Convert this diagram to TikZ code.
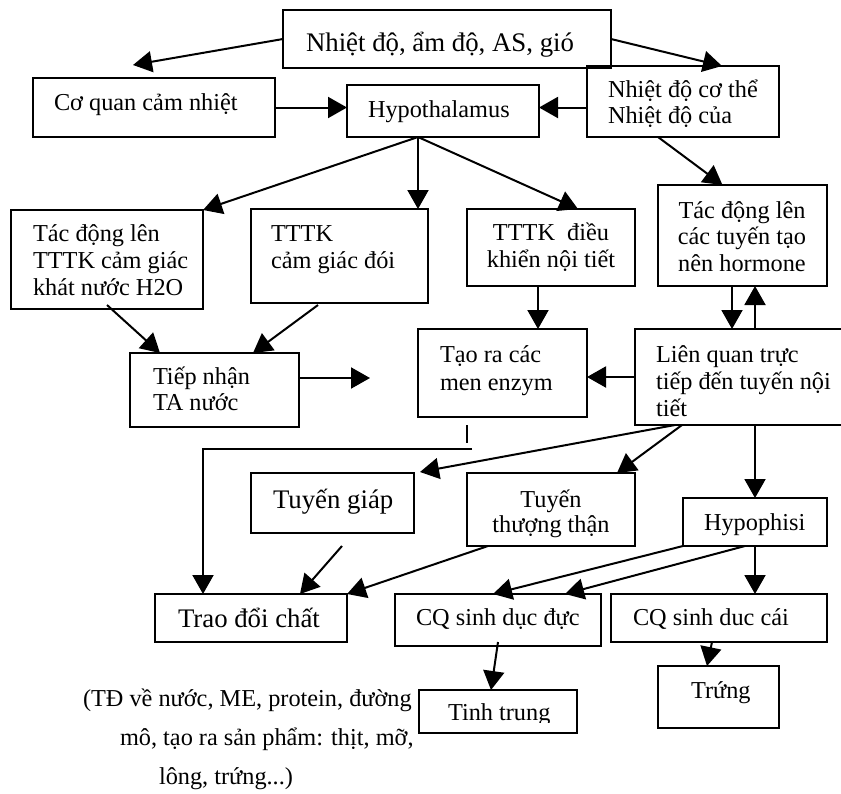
\documentclass[tikz,border=0pt]{standalone}
\usepackage{fontspec}
\setmainfont{Liberation Serif}
\usetikzlibrary{arrows.meta,calc}

\begin{document}
\begin{tikzpicture}[x=1pt,y=-1pt,
  line width=2pt,
  box/.style={draw, rectangle, inner sep=0pt, outer sep=0pt, anchor=north west},
  % multi-line texts are placed by the baseline of their last line
  txt/.style={inner sep=0pt, anchor=base west, align=left, font=\fontsize{24.3}{27}\selectfont},
  ctxt/.style={inner sep=0pt, anchor=base, align=center, font=\fontsize{24.3}{26.5}\selectfont},
  big/.style={font=\fontsize{26.8}{30}\selectfont},
  arr/.style={-{Triangle[length=19pt,width=21pt]}},
]
\useasboundingbox (0,0) rectangle (841,793);
\fill[white] (0,0) rectangle (841,793);

% boxes
\node[box, minimum width=328pt, minimum height=58pt] (env) at (283,10) {};
\node[box, minimum width=242pt, minimum height=59pt] (cqcn) at (33,78) {};
\node[box, minimum width=192pt, minimum height=52pt] (hyp) at (347,85) {};
\node[box, minimum width=192pt, minimum height=71pt] (ndct) at (587,66) {};
\node[box, minimum width=192pt, minimum height=99pt] (tdk) at (11,210) {};
\node[box, minimum width=177pt, minimum height=94pt] (doi) at (251,209) {};
\node[box, minimum width=168pt, minimum height=77pt] (dknt) at (467,209) {};
\node[box, minimum width=169pt, minimum height=101pt] (hormon) at (658,185) {};
\node[box, minimum width=169pt, minimum height=74pt] (tiepnhan) at (130,353) {};
\node[box, minimum width=169pt, minimum height=88pt] (enzym) at (418,329) {};
\node[box, minimum width=210pt, minimum height=96pt] (lienquan) at (635,329) {};
\node[box, minimum width=163pt, minimum height=60pt] (giap) at (251,473) {};
\node[box, minimum width=168pt, minimum height=73pt] (thuongthan) at (467,473) {};
\node[box, minimum width=144pt, minimum height=48pt] (hypo) at (683,498) {};
\node[box, minimum width=192pt, minimum height=48pt] (tdc) at (155,594) {};
\node[box, minimum width=206pt, minimum height=52pt] (duc) at (395,594) {};
\node[box, minimum width=216pt, minimum height=48pt] (cai) at (611,594) {};
\node[box, minimum width=158pt, minimum height=43pt] (tinh) at (419,690) {};
\node[box, minimum width=121pt, minimum height=62pt] (trung) at (658,666) {};

% texts
\node[txt, big] (tenv) at (305,51) {Nhiệt độ, ẩm độ, AS, gió};
\node[txt] (tcqcn) at (53,110) {Cơ quan cảm nhiệt};
\node[txt] (thyp) at (367,117) {Hypothalamus};
\node[txt, font=\fontsize{24.3}{26}\selectfont] (tndct) at (607,123) {Nhiệt độ cơ thể\\Nhiệt độ của};
\node[txt] (ttdk) at (32,295) {Tác động lên\\TTTK cảm giác\\khát nước H2O};
\node[txt] (tdoi) at (270,268) {TTTK\\cảm giác đói};
\node[ctxt] (tdknt) at (551,267) {TTTK\ \ điều\\khiển nội tiết};
\node[ctxt] (thormon) at (742,271) {Tác động lên\\các tuyến tạo\\nên hormone};
\node[txt, font=\fontsize{24.3}{26}\selectfont] (ttiepnhan) at (152,410) {Tiếp nhận\\TA nước};
\node[txt, font=\fontsize{24.3}{28}\selectfont] (tenzym) at (439,390) {Tạo ra các\\men enzym};
\node[txt] (tlienquan) at (655,416) {Liên quan trực\\tiếp đến tuyến nội\\tiết};
\node[txt, big] (tgiap) at (272,508) {Tuyến giáp};
\node[ctxt, font=\fontsize{24.3}{25}\selectfont] (tthuongthan) at (551,532) {Tuyến\\thượng thận};
\node[txt] (thypo) at (703,530) {Hypophisi};
\node[txt, big] (ttdc) at (177,627) {Trao đổi chất};
\node[txt] (tduc) at (415,625) {CQ sinh dục đực};
\node[txt] (tcai) at (632,625) {CQ sinh duc cái};
\begin{scope}
  \clip (419,690) rectangle (577,722);
  \node[txt] (ttinh) at (447,720) {Tinh trung};
\end{scope}
\node[txt] (ttrung) at (690,698) {Trứng};
\node[txt] (note1) at (82,706) {(TĐ về nước, ME, protein, đường};
\node[txt] (note2) at (119,745) {mô, tạo ra sản phẩm: thịt, mỡ,};
\node[txt] (note3) at (158,784) {lông, trứng...)};

% connectors
\coordinate (c1) at (133,65);
\coordinate (c2) at (370,378);
\coordinate (c3) at (472,449);
\coordinate (h) at ([xshift=71pt]hyp.south west);

\draw[arr] (env.west) -- (c1);
\draw[arr] (env.east) -- ([xshift=39pt]ndct.north);
\draw[arr] (cqcn.east) -- (cqcn.east -| hyp.west);
\draw[arr] (ndct.west |- cqcn.east) -- (hyp.east |- cqcn.east);
\draw[arr] ([xshift=-25pt]ndct.south) -- ([xshift=-20pt]hormon.north);
\draw[arr] (h) -- (tdk.north east);
\draw[arr] (h) -- (h |- doi.north);
\draw[arr] (h) -- ([xshift=27pt]dknt.north);
\draw[arr] ([yshift=4pt]tdk.south) -- ([xshift=-54.5pt]tiepnhan.north);
\draw[arr] ([xshift=-21.5pt,yshift=-2pt]doi.south) -- ([xshift=38.5pt]tiepnhan.north);
\draw[arr] ([yshift=12pt]tiepnhan.east) -- (c2);
\draw[arr] ([xshift=-13pt]dknt.south) -- ([xshift=-13pt]dknt.south |- enzym.north);
\draw[arr] (lienquan.west) -- (lienquan.west -| enzym.east);
\draw[arr] ([xshift=-10.5pt]hormon.south) -- ([xshift=-10.5pt]hormon.south |- lienquan.north);
\draw[arr] ([xshift=12.5pt]hormon.south |- lienquan.north) -- ([xshift=12.5pt]hormon.south);
\draw ([xshift=49pt,yshift=-8pt]enzym.south west) -- ++(0,18);
\draw[arr] (c3) -| ([xshift=-48pt]tdc.north);
\draw[arr] ([xshift=40pt]lienquan.south west) -- ([xshift=6pt,yshift=1pt]giap.north east);
\draw[arr] ([xshift=47pt]lienquan.south west) -- ([xshift=66pt]thuongthan.north);
\draw[arr] (hypo.north |- lienquan.south) -- (hypo.north);
\draw[arr] ([xshift=9.5pt,yshift=-13pt]giap.south) -- ([xshift=49pt]tdc.north);
\draw[arr] ([xshift=21pt]thuongthan.south west) -- (tdc.north east);
\draw[arr] (hypo.south west) -- ([xshift=-5pt]duc.north);
\draw[arr] ([xshift=-10pt]hypo.south) -- ([xshift=67pt]duc.north);
\draw[arr] (hypo.south) -- (hypo.south |- cai.north);
\draw[arr] ([yshift=4pt]duc.south) -- ([xshift=-7pt]tinh.north);
\draw[arr] ([xshift=-7pt]cai.south) -- ([xshift=-11.5pt]trung.north);
\end{tikzpicture}
\end{document}
